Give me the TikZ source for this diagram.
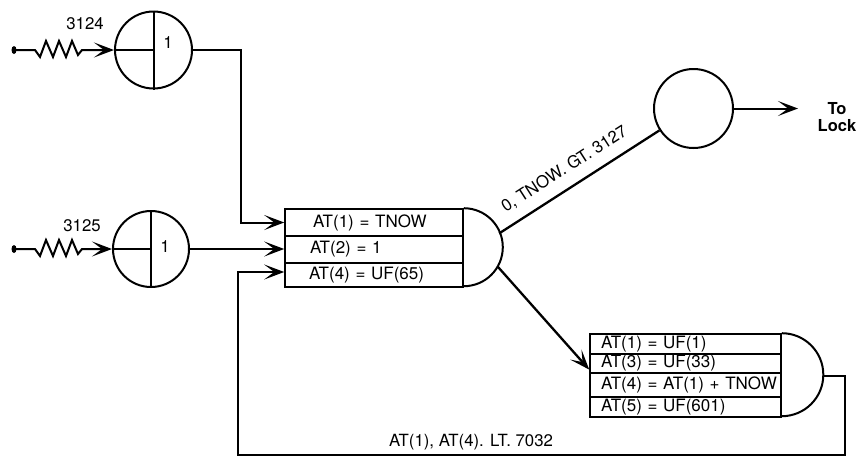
\documentclass[tikz,border=0pt]{standalone}
\usepackage{fontspec}
\setmainfont{TeX Gyre Heros}
\usetikzlibrary{arrows.meta,calc,shapes.geometric}
\tikzset{
  ln/.style={line width=2pt},
  arr/.style={ln,-{Stealth[length=20pt,width=15pt,inset=10pt]}},
  qcirc/.style={circle,draw,ln,inner sep=0pt},
  rowbox/.style={draw,line width=1.6pt,rectangle,inner ysep=0pt,align=left,anchor=center,font=\fontsize{17}{18}\selectfont},
  lbl/.style={font=\fontsize{16.8}{18}\selectfont,inner sep=0pt},
  dot/.style={ellipse,fill=black,inner sep=0pt,minimum width=5pt,minimum height=8pt}
}
\newcommand{\rowtxt}[1]{\makebox[0pt][l]{#1}}
\begin{document}
\begin{tikzpicture}[x=1pt,y=-1pt]
\useasboundingbox (0,0) rectangle (858,459);
% sources
\node[dot] (d1) at (14,50) {};
\node[dot] (d2) at (14,249) {};
% create nodes
\node[qcirc,minimum size=77pt] (c1) at (153.5,50) {};
\node[qcirc,minimum size=76pt] (c2) at (151,249) {};
\node[qcirc,minimum size=79pt] (c3) at (693.5,108.5) {};
\draw[ln] (c1.north) -- (c1.south);
\draw[ln] (c1.west) -- (c1.center);
\draw[ln] (c2.north) -- (c2.south);
\draw[ln] (c2.west) -- (c2.center);
\node[lbl] (one1) at (168,43) {1};
\node[lbl] (one2) at (165,247) {1};
\node[lbl] (n3124) at (85,24) {3124};
\node[lbl] (n3125) at (82,226) {3125};
% zigzag inputs
\draw[arr] (d1.center) -- ++(21,0) -- ++(5,7) -- ++(6,-16) -- ++(7,16) -- ++(6,-16) -- ++(7,16) -- ++(6,-16) -- ++(6,14) -- ++(4,-5) -- (c1.west);
\draw[arr] (d2.center) -- ++(21,0) -- ++(5,7) -- ++(6,-16) -- ++(7,16) -- ++(6,-16) -- ++(7,16) -- ++(6,-16) -- ++(6,14) -- ++(4,-5) -- (c2.west);
% assign box 1
\node[rowbox,minimum width=178pt,minimum height=27pt,text width=130pt,inner xsep=24pt] (r1a) at (374,222.5) {\rowtxt{\hspace*{4pt}AT(1) = TNOW}};
\node[rowbox,minimum width=178pt,minimum height=27pt,text width=130pt,inner xsep=24pt] (r1b) at (374,249.5) {\rowtxt{\hspace*{1pt}AT(2) = 1}};
\node[rowbox,minimum width=178pt,minimum height=24pt,text width=130pt,inner xsep=24pt] (r1c) at (374,275) {\rowtxt{AT(4) = UF(65)}};
\coordinate (s1) at (463,248);
\draw[ln] (r1a.north east) arc[start angle=-90,end angle=90,radius=39];
% assign box 2
\node[rowbox,minimum width=191pt,minimum height=20pt,text width=169pt,inner xsep=11pt] (r2a) at (685.5,344) {\rowtxt{AT(1) = UF(1)}};
\node[rowbox,minimum width=191pt,minimum height=19pt,text width=169pt,inner xsep=11pt] (r2b) at (685.5,363.5) {\rowtxt{AT(3) = UF(33)}};
\node[rowbox,minimum width=191pt,minimum height=24pt,text width=169pt,inner xsep=11pt] (r2c) at (685.5,385) {\rowtxt{AT(4) = AT(1) + TNOW}};
\node[rowbox,minimum width=191pt,minimum height=20pt,text width=169pt,inner xsep=11pt] (r2d) at (685.5,407) {\rowtxt{AT(5) = UF(601)}};
\coordinate (s2) at (781,375.5);
\draw[ln] (r2a.north east) arc[start angle=-90,end angle=90,radius=41.5];
% connectors
\coordinate (k1) at (241,50);
\draw[arr] (c1.east) -- (k1) |- (r1a.west);
\draw[arr] (c2.east) -- (c2.east -| r1b.west);
\coordinate (k2) at (845,375.5);
\coordinate (k3) at (845,455);
\coordinate (k4) at (238,455);
\draw[arr] ($(s2)+(41.5,0)$) -- (k2) -- (k3) -- (k4) |- ($(r1c.west)+(0,-3)$);
\node[lbl] (lt) at (471,442) {AT(1), AT(4). LT. 7032};
\draw[ln,line width=2.3pt] ($(s1)+(-22:39)$) -- node[pos=0.47,sloped,above=10pt,lbl] (gt) {0, TNOW. GT. 3127} (c3);
\draw[arr,line width=2.3pt] ($(s1)+(28:39)$) -- ($(r2a.north west)!0.43!(r2d.south west)$);
\coordinate (ar) at (798,108.5);
\draw[arr] (c3.east) -- (ar);
\node[font=\bfseries\fontsize{16.5}{17}\selectfont,align=center,inner sep=0pt] (lock) at (837,117) {To\\Lock};
\end{tikzpicture}
\end{document}
